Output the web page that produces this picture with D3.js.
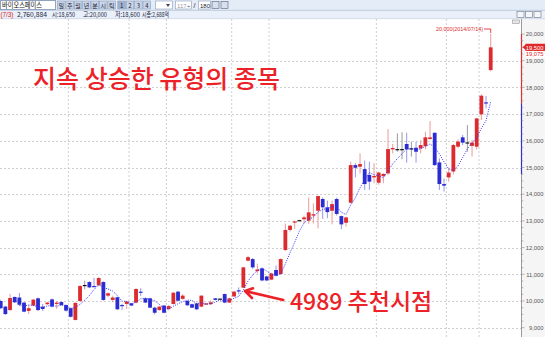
<!DOCTYPE html>
<html><head><meta charset="utf-8">
<script src="https://cdn.jsdelivr.net/npm/d3@7"></script>
<style>body{margin:0;background:#fff;overflow:hidden}svg{display:block}</style>
</head><body><svg id="c" width="545" height="337"></svg>
<script>
// ---- data (daily candles, KRW) ----
const opens = [10000,9790,9660,10150,10130,9940,9630,9830,10100,9790,
9880,10060,9890,9960,9850,9730,9290,10000,10600,10710,
10560,10590,10710,10200,10040,10140,9850,9890,9910,9940,
10350,10100,10100,9750,9660,9830,9700,9890,10350,10080,
10000,9880,9910,9790,9880,9880,10100,10090,10260,9940,
10170,10400,10500,11510,11570,11120,11220,10920,10800,11160,
11010,11910,12660,12940,13030,13060,13010,13200,13380,13820,
13510,13380,13820,13180,12930,13680,15090,15030,14940,14720,
14630,14430,14680,14780,15680,15690,15690,15880,15720,15740,
15720,15800,16070,16300,15190,14380,14630,14850,15780,16130,
15940,15810,15780,16990,17440,18650];
const highs = [10050,9820,10260,10170,10300,9960,9850,10080,10130,9890,
9970,10100,10000,9990,9870,9750,9950,10600,10760,10740,
10870,10900,10740,10320,10200,10160,9900,10000,9930,10480,
10480,10120,10120,9780,9800,9850,9850,10330,10380,10260,
10020,9900,9940,10220,9930,10030,10110,10100,10280,10120,
10380,10510,11280,11690,11610,11400,11260,10950,11060,11330,
11600,12900,12850,13010,13040,13200,13880,13660,13950,13880,
13760,13760,13870,13200,13160,15220,15160,15530,15260,15220,
15160,14840,14780,16440,15880,16280,16320,16300,15970,15970,
16030,16340,16740,16310,15340,14590,14970,15880,16060,16220,
16590,16030,16840,17740,17680,20000];
const lows = [9700,9480,9640,9930,9840,9580,9510,9800,9620,9630,
9850,9760,9700,9830,9600,9380,9270,9960,10440,10480,
10520,10550,10010,10140,9950,9660,9660,9700,9810,9910,
10190,9920,9730,9490,9640,9540,9650,9870,9990,10050,
9820,9730,9660,9770,9860,9850,10020,10070,9920,9920,
10150,10250,10480,11480,11200,11040,10740,10740,10780,10930,
10980,11870,12600,12700,13020,12900,12880,12900,12720,13070,
13100,12870,13200,12690,12790,13650,14630,14780,14160,14160,
14410,14350,14410,14720,15530,15590,15310,15180,15410,15180,
15530,15680,16030,15060,14160,14100,14470,14740,15720,15840,
15590,15410,15680,16780,17220,18600];
const closes = [9730,9510,10110,9950,9860,9600,9730,10050,9660,9700,
9940,9790,9940,9850,9640,9410,9930,10560,10600,10510,
10540,10860,10040,10290,10130,9690,9830,9980,9830,10450,
10330,9940,9750,9560,9790,9560,9810,10310,10010,10200,
9840,9750,9690,10200,9910,9950,10040,10090,9940,10100,
10350,10380,11260,11640,11260,11180,10770,10770,11030,10950,
11570,12660,12820,12980,13030,13130,13320,13250,13930,13510,
13330,13630,13260,12870,13130,15090,14990,15130,14380,14470,
14680,14810,14760,15690,15730,15690,15690,15680,15720,15590,
15840,16130,16130,15090,14380,14320,14810,15840,15970,15930,
15940,15930,16840,17690,17400,19500];
const priceTicks = [9000,10000,11000,12000,13000,14000,15000,16000,17000,18000,19000,20000];
const gridPrices = [9000,10000,11000,12000,13000,14000,15000,16000,17000,18000,19000];
const periodBreaks = [15,28,36,50,58,81,96,103];   // first candle of each new period
const maPeriod = 5;
const lastPrice = 19500, avgPrice = 19075;
const headerItems = ["2,760,884","시:18,650","고:20,000","저:18,600","시총:2,688억"];
const periodButtons = ["일","주","월","년","분","시","틱","1","2","3","4"];

// ---- scales ----
const svg = d3.select("#c");
const N = closes.length;
const x = d3.scaleLinear().domain([0, N - 1]).range([0.7, 490.7]);
const y = d3.scaleLinear().domain([9000, 20000]).range([327.7, 34]);
const plotRight = 521.5, plotTop = 19;
const bw = 3.8;
const RED = "#dc2a2e", BLUE = "#2b2bd3";
const AXF = "Liberation Sans";
const labelRight = 543.5;

// backgrounds
svg.append("rect").attr("x",0).attr("y",0).attr("width",545).attr("height",337).attr("fill","#fff");
svg.append("rect").attr("x",plotRight).attr("y",plotTop).attr("width",545-plotRight).attr("height",337-plotTop).attr("fill","#f5f5f5");

// toolbar row 1
svg.append("rect").attr("x",0).attr("y",0).attr("width",545).attr("height",10).attr("fill","#e4ecf7");
svg.append("rect").attr("x",0.5).attr("y",0.5).attr("width",55).attr("height",9).attr("fill","#fff").attr("stroke","#8fa2c0");
svg.append("text").attr("x",2).attr("y",8.3).attr("font-family","Noto Sans CJK KR").attr("font-size",8)
  .attr("fill","#111").attr("textLength",40).attr("lengthAdjust","spacingAndGlyphs").text("바이오스페이스");
periodButtons.forEach((b,i)=>{
  const bx = 57.5 + i*8.4 + (i>=7?1.5:0);
  svg.append("rect").attr("x",bx).attr("y",1).attr("width",7.6).attr("height",8)
    .attr("fill", i===7 ? "#9fb1cf" : "#c9d5e8").attr("stroke","#8b9cb9").attr("stroke-width",0.6);
  svg.append("text").attr("x",bx+3.8).attr("y",7.6).attr("text-anchor","middle")
    .attr("font-family","Noto Sans CJK KR").attr("font-size",6).attr("fill","#223").text(b);
});
svg.append("rect").attr("x",155.5).attr("y",1).attr("width",17).attr("height",8).attr("fill","#fff").attr("stroke","#8b9cb9").attr("stroke-width",0.6);
svg.append("path").attr("d","M166,4 L170,4 L168,7 Z").attr("fill","#445");
svg.append("rect").attr("x",175.5).attr("y",1).attr("width",16).attr("height",8).attr("fill","#fff").attr("stroke","#8b9cb9").attr("stroke-width",0.6);
svg.append("text").attr("x",177).attr("y",7.6).attr("font-family","Liberation Sans").attr("font-size",6).attr("fill","#99a").text("117");
svg.append("text").attr("x",187).attr("y",7.6).attr("font-family","Liberation Sans").attr("font-size",6).attr("fill","#445").text("÷");
svg.append("text").attr("x",193.5).attr("y",7.8).attr("font-family","Liberation Sans").attr("font-size",7).attr("fill","#223").text("/");
svg.append("rect").attr("x",198.5).attr("y",1).attr("width",12).attr("height",8).attr("fill","#fff").attr("stroke","#8b9cb9").attr("stroke-width",0.6);
svg.append("text").attr("x",200).attr("y",7.6).attr("font-family","Liberation Sans").attr("font-size",6).attr("fill","#223").text("180");
[212,221].forEach(ix=>{
  svg.append("rect").attr("x",ix).attr("y",1.5).attr("width",7).attr("height",7).attr("fill","#d7e0ee").attr("stroke","#55627a").attr("stroke-width",0.6);
});
// toolbar row 2
svg.append("rect").attr("x",0).attr("y",10).attr("width",545).attr("height",9).attr("fill","#e9f0fa");
svg.append("line").attr("x1",0).attr("x2",545).attr("y1",10.3).attr("y2",10.3).attr("stroke","#9fb0c8").attr("stroke-width",0.6);
svg.append("line").attr("x1",0).attr("x2",545).attr("y1",18.7).attr("y2",18.7).attr("stroke","#c3cfdf").attr("stroke-width",0.6);
svg.append("text").attr("x",0.5).attr("y",17).attr("font-family","Liberation Sans").attr("font-size",6.5).attr("fill","#d22").attr("textLength",13).text("(7/3)");
const hx = [17,52,83,115,142], hw = [30,23,24,25,27];
headerItems.forEach((t,i)=>{
  svg.append("text").attr("x",hx[i]).attr("y",17).attr("font-family","Noto Sans CJK KR").attr("font-size",6.5)
    .attr("fill","#1c1c3c").attr("textLength",hw[i]).attr("lengthAdjust","spacingAndGlyphs").text(t);
});
[517,525.5,534].forEach(ix=>{
  svg.append("rect").attr("x",ix).attr("y",11.5).attr("width",7).attr("height",6).attr("fill","#f4f6fa").attr("stroke","#6b768a").attr("stroke-width",0.6);
});
svg.append("rect").attr("x",512.5).attr("y",20).attr("width",7).attr("height",3.5).attr("fill","#e6e6e6").attr("stroke","#888").attr("stroke-width",0.5);

// grid
const g = svg.append("g");
g.selectAll(".hg").data(gridPrices).join("line")
  .attr("x1",0).attr("x2",plotRight).attr("y1",d=>Math.round(y(d))+0.5).attr("y2",d=>Math.round(y(d))+0.5)
  .attr("stroke","#c4c4c4").attr("stroke-width",0.8).attr("stroke-dasharray","2,2");
g.selectAll(".vg").data(periodBreaks).join("line")
  .attr("x1",d=>x(d-0.5)).attr("x2",d=>x(d-0.5)).attr("y1",plotTop).attr("y2",337)
  .attr("stroke","#c4c4c4").attr("stroke-width",0.8).attr("stroke-dasharray","2,2");

// candles
const idx = d3.range(N);
const col = i => closes[i] > opens[i] ? RED : (closes[i] < opens[i] ? BLUE : "#111");
const wickCol = i => closes[i] > opens[i] ? "#eb9a9c" : (closes[i] < opens[i] ? "#9696ec" : "#9a9a9a");
const cg = svg.append("g");
cg.selectAll(".w").data(idx).join("line")
  .attr("x1",i=>x(i)).attr("x2",i=>x(i)).attr("y1",i=>y(highs[i])).attr("y2",i=>y(lows[i]))
  .attr("stroke",wickCol).attr("stroke-width",1);
cg.selectAll(".b").data(idx).join("rect")
  .attr("x",i=>x(i)-bw/2).attr("width",bw)
  .attr("y",i=>y(Math.max(opens[i],closes[i])))
  .attr("height",i=>Math.max(1.2, Math.abs(y(opens[i])-y(closes[i]))))
  .attr("fill",col);

// 5-period moving average of closes
const ma = idx.filter(i=>i>=maPeriod-1).map(i=>[i, d3.mean(closes.slice(i-maPeriod+1,i+1))]);
svg.append("path").datum(ma)
  .attr("d", d3.line().x(d=>x(d[0])).y(d=>y(d[1])))
  .attr("fill","none").attr("stroke","#3232ff").attr("stroke-width",1).attr("stroke-dasharray","1,1.3");

// right axis
svg.append("line").attr("x1",plotRight).attr("x2",plotRight).attr("y1",plotTop).attr("y2",337).attr("stroke","#9a9a9a");
svg.append("line").attr("x1",plotRight).attr("x2",plotRight).attr("y1",y(20000)).attr("y2",y(17400)).attr("stroke","#e03030").attr("stroke-width",1.2);
svg.append("line").attr("x1",plotRight).attr("x2",plotRight).attr("y1",y(17400)).attr("y2",y(14750)).attr("stroke","#3030d0").attr("stroke-width",1.2);
const minor = d3.range(9000, 20001, 250);
svg.selectAll(".mt").data(minor).join("line")
  .attr("x1",plotRight).attr("x2",d=>plotRight + (d%1000===0?3:1.8)).attr("y1",d=>y(d)).attr("y2",d=>y(d))
  .attr("stroke","#8a8a8a").attr("stroke-width",0.6);
svg.selectAll(".tl").data(priceTicks).join("text")
  .attr("x",labelRight).attr("y",d=>y(d)+2.2).attr("text-anchor","end")
  .attr("font-family",AXF).attr("font-size",5.8).attr("fill","#555")
  .text(d=>d3.format(",")(d));
// current / average price tags
svg.append("rect").attr("x",525.5).attr("y",y(lastPrice)-3.6).attr("width",19.5).attr("height",7.2).attr("fill","#e02828");
svg.append("path").attr("d",`M${plotRight+1},${y(lastPrice)} L${plotRight+4.5},${y(lastPrice)-3} L${plotRight+4.5},${y(lastPrice)+3} Z`).attr("fill","#e02828");
svg.append("text").attr("x",labelRight).attr("y",y(lastPrice)+2.2).attr("text-anchor","end").attr("font-family",AXF).attr("font-size",5.8)
  .attr("fill","#fff").text(d3.format(",")(lastPrice));
svg.append("rect").attr("x",525.5).attr("y",y(lastPrice)+3.8).attr("width",19.5).attr("height",6.4).attr("fill","#fff");
svg.append("text").attr("x",labelRight).attr("y",y(lastPrice)+8.9).attr("text-anchor","end").attr("font-family",AXF).attr("font-size",5.8)
  .attr("fill","#e02828").text(d3.format(",")(avgPrice));

// high annotation
const hi = N - 1;
svg.append("text").attr("x",436).attr("y",y(highs[hi])-3).attr("font-family","Liberation Sans").attr("font-size",6.2)
  .attr("fill","#e03030").attr("textLength",47).attr("lengthAdjust","spacingAndGlyphs")
  .text(d3.format(",")(highs[hi]) + "(2014/07/14)");
svg.append("path").attr("d",`M${484},${y(highs[hi])-5} H${x(hi)} V${y(highs[hi])-1}`)
  .attr("fill","none").attr("stroke","#e03030").attr("stroke-width",0.9);

// big annotations
svg.append("text").attr("x",33).attr("y",88).attr("font-family","Noto Sans CJK KR").attr("font-size",25)
  .attr("font-weight",500).attr("fill","#ec2228").text("지속 상승한 유형의 종목");
svg.append("text").attr("x",290).attr("y",310).attr("font-family","Noto Sans CJK KR").attr("font-size",23)
  .attr("font-weight",500).attr("fill","#ec2228").text("4989 추천시점");
svg.append("path").attr("d","M283.3,300 L245,291 M253,288.3 L245,291 L252,298")
  .attr("fill","none").attr("stroke","#ec2228").attr("stroke-width",2.6).attr("stroke-linecap","round").attr("stroke-linejoin","round");
</script></body></html>
